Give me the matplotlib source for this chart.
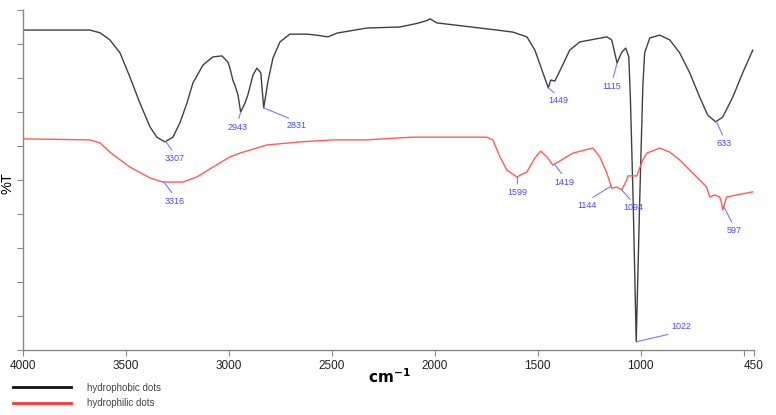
import matplotlib
matplotlib.use("Agg")
import matplotlib.pyplot as plt
import numpy as np

plt.rcParams['font.family'] = ['Liberation Sans', 'DejaVu Sans']

# hydrophobic dots spectrum (wavenumber, %T)
phob_wn = [4000, 3675, 3626, 3578, 3529, 3481, 3432, 3383, 3350, 3311, 3272, 3238,
           3204, 3175, 3126, 3078, 3034, 3005, 2995, 2981, 2971, 2956, 2943, 2922,
           2908, 2883, 2864, 2845, 2831, 2811, 2786, 2752, 2704, 2621, 2573, 2519,
           2476, 2330, 2170, 2083, 2039, 2024, 1990, 1864, 1699, 1621, 1553, 1514,
           1475, 1449, 1437, 1417, 1384, 1345, 1296, 1165, 1141, 1115, 1092, 1073,
           1058, 1050, 1037, 1022, 1005, 990, 981, 956, 908, 859, 811, 762, 714,
           675, 636, 602, 553, 505, 456]
phob_t = [94.1, 94.1, 93.3, 91.2, 87.4, 80.3, 72.6, 65.6, 62.6, 61.2, 62.6, 66.8,
          72.6, 78.5, 83.8, 86.2, 86.5, 84.7, 82.9, 79.4, 77.9, 75.0, 70.0, 72.6,
          75.0, 80.9, 82.9, 81.5, 71.2, 78.8, 85.9, 90.6, 92.9, 92.9, 92.6, 92.1,
          93.2, 94.7, 95.0, 96.1, 96.9, 97.4, 96.2, 95.3, 94.1, 93.5, 92.1, 88.2,
          81.5, 77.1, 79.4, 79.1, 83.2, 88.2, 90.6, 92.1, 91.2, 84.4, 87.6, 88.8,
          86.2, 73.5, 44.1, 2.4, 44.1, 77.4, 87.4, 91.8, 92.6, 91.2, 87.4, 81.5, 74.4,
          69.1, 67.1, 68.5, 74.4, 81.5, 88.2]

# hydrophilic dots spectrum
phil_wn = [4000, 3675, 3626, 3578, 3481, 3383, 3320, 3223, 3155, 3078, 2995, 2947,
           2816, 2655, 2495, 2330, 2170, 2107, 1748, 1718, 1684, 1650, 1602, 1553,
           1514, 1486, 1456, 1427, 1393, 1330, 1272, 1233, 1199, 1165, 1141, 1116,
           1092, 1068, 1063, 1019, 1005, 990, 971, 908, 859, 811, 762, 704, 680,
           665, 641, 617, 607, 602, 583, 534, 456]
phil_t = [62.1, 61.8, 60.9, 58.2, 53.8, 50.6, 49.4, 49.4, 50.9, 53.8, 56.8, 57.9,
          60.3, 61.2, 61.8, 61.8, 62.4, 62.6, 62.6, 61.8, 56.8, 52.9, 50.9, 52.4,
          56.5, 58.5, 56.8, 54.4, 55.6, 57.9, 58.8, 59.4, 56.8, 52.1, 47.6, 47.9,
          47.1, 50.0, 51.2, 51.2, 53.5, 55.9, 57.9, 59.4, 58.2, 55.9, 52.9, 49.4, 47.9,
          45.0, 45.6, 45.0, 43.2, 41.2, 45.0, 45.6, 46.5]

phob_peaks = [3307, 2943, 2831, 1449, 1115, 1022, 633]
phil_peaks = [3316, 1599, 1419, 1144, 1094, 597]

# label offsets in pixels (dx, dy) for each peak
offsets = {
    3307: (9, -17), 2943: (-3, -15), 2831: (33, -18), 1449: (10, -13),
    1115: (-5, -23), 1022: (45, 15), 633: (8, -22),
    3316: (11, -19), 1599: (0, -16), 1419: (10, -18), 1144: (-24, -19),
    1094: (12, -18), 597: (10, -24),
}

fig = plt.figure(figsize=(7.76, 4.15), dpi=100)
ax = fig.add_axes([23 / 776, 65 / 415, 731 / 776, 340 / 415])

ax.plot(phob_wn, phob_t, color='#404040', lw=1.0)
ax.plot(phil_wn, phil_t, color='#ff5c5c', lw=1.0)

ax.set_xlim(4000, 450)
ax.set_ylim(0, 100)
ax.set_xticks([4000, 3500, 3000, 2500, 2000, 1500, 1000, 500, 450])
ax.set_xticklabels(['4000', '3500', '3000', '2500', '2000', '1500', '1000', '', '450'])
ax.set_yticks(np.arange(0, 101, 10))
ax.set_yticklabels([])
ax.tick_params(axis='both', length=4, color='#888888', labelsize=8.5,
               labelcolor='#222222', pad=3)
for s in ['top', 'right']:
    ax.spines[s].set_visible(False)
for s in ['left', 'bottom']:
    ax.spines[s].set_color('#888888')
    ax.spines[s].set_linewidth(1.0)

ax.set_ylabel('%T', fontsize=10.5)
ax.yaxis.set_label_coords(-0.012, 0.49)
fig.text(389 / 776, 1 - 377 / 415, r'$\mathbf{cm^{-1}}$', ha='center', va='center',
         fontsize=11)


def label_peaks(peaks, wn, t):
    for p in peaks:
        y = np.interp(p, wn[::-1], t[::-1])
        dx, dy = offsets[p]
        ax.annotate(str(p), xy=(p, y), xytext=(dx, dy), textcoords='offset pixels',
                    ha='center', va='center', fontsize=6.5, color='#4b4bff',
                    arrowprops=dict(arrowstyle='-', color='#7878ff', lw=0.8,
                                    shrinkA=1, shrinkB=0,
                                    relpos=(0.5, 0.0) if dy > 0 else (0.5, 1.0)))


label_peaks(phob_peaks, phob_wn, phob_t)
label_peaks(phil_peaks, phil_wn, phil_t)

h1 = plt.Line2D([], [], color='#111111', lw=2)
h2 = plt.Line2D([], [], color='#ff3333', lw=2)
fig.legend([h1, h2], ['hydrophobic dots', 'hydrophilic dots'], loc='upper left',
           bbox_to_anchor=(4 / 776, 1 - 374 / 415), frameon=False, fontsize=7,
           handlelength=6.0, handletextpad=1.6, labelspacing=0.55, labelcolor='#444444')

fig.savefig('out.png', dpi=100)
